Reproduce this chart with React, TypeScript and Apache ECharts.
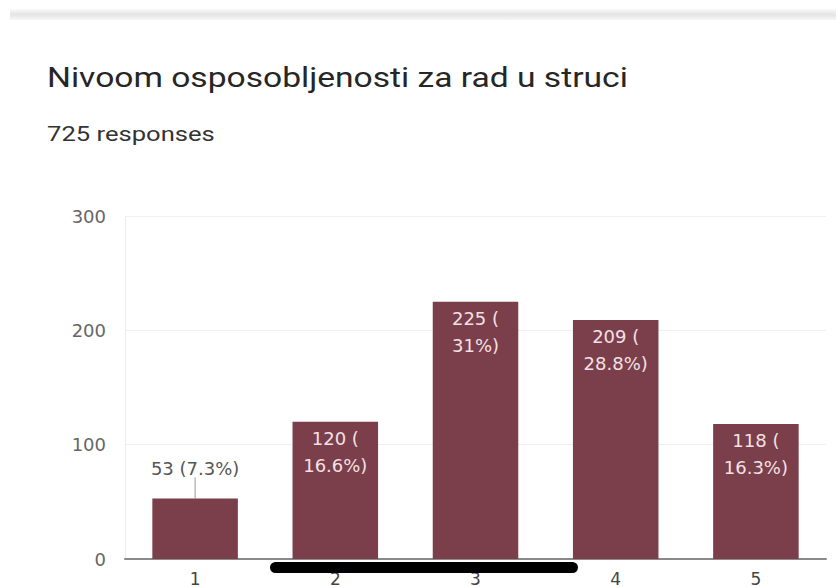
import React, { useEffect, useRef } from "react";
import * as echarts from "echarts";

const titleText = "Nivoom osposobljenosti za rad u struci";
const subtitleText = "725 responses";
const categories = ["1", "2", "3", "4", "5"];
const counts = [53, 120, 225, 209, 118];
const percents = ["7.3%", "16.6%", "31%", "28.8%", "16.3%"];
const yTicks = { min: 0, max: 300, interval: 100 };

export default function App() {
  const ref = useRef<HTMLDivElement>(null);
  useEffect(() => {
    if (!ref.current) return;
    const chart = echarts.init(ref.current, null, { renderer: "svg" });
    const font = "Roboto, 'Noto Sans', Arial, sans-serif";
    const labelFont = "'DejaVu Sans', Roboto, sans-serif";
    const data = counts.map((v, i) => {
      if (i === 0) {
        return {
          value: v,
          label: {
            show: true,
            position: "top",
            distance: 21,
            color: "#555",
            formatter: `${v} (${percents[i]})`,
            fontSize: 18,
            fontFamily: labelFont,
          },
        };
      }
      return {
        value: v,
        label: {
          show: true,
          position: "insideTop",
          distance: 3,
          color: "#f3e1e5",
          fontSize: 18,
          lineHeight: 27,
          fontFamily: labelFont,
          formatter: `${v} (\n${percents[i]})`,
        },
      };
    });
    chart.setOption({
      animation: false,
      textStyle: { fontFamily: font },
      grid: {
        left: 125,
        right: 10,
        top: 216,
        bottom: 28,
        containLabel: false,
        outerBoundsMode: "none",
      },
      xAxis: {
        type: "category",
        data: categories,
        axisLine: { show: true, lineStyle: { color: "#8a8a8a", width: 2 } },
        axisTick: { show: false },
        axisLabel: { color: "#444", fontSize: 17, margin: 11, fontFamily: labelFont },
      },
      yAxis: {
        type: "value",
        min: yTicks.min,
        max: yTicks.max,
        interval: yTicks.interval,
        axisLine: { show: true, lineStyle: { color: "#ececec" } },
        axisTick: { show: false },
        splitLine: { lineStyle: { color: "#efefef" } },
        axisLabel: { color: "#666", fontSize: 18, margin: 19, fontFamily: labelFont },
      },
      series: [
        {
          type: "bar",
          data,
          barWidth: "61%",
          itemStyle: { color: "#7b3e4b" },
        },
      ],
      graphic: [
        {
          type: "rect",
          shape: { x: 10, y: 9, width: 826, height: 11 },
          style: {
            fill: new echarts.graphic.LinearGradient(0, 0, 0, 1, [
              { offset: 0, color: "#fafafa" },
              { offset: 0.5, color: "#e4e4e4" },
              { offset: 1, color: "#f7f7f7" },
            ]),
          },
        },
        {
          type: "text",
          x: 47,
          y: 63,
          scaleX: 1.2,
          style: { text: titleText, fontSize: 28, fill: "#262626", fontFamily: font },
        },
        {
          type: "text",
          x: 47,
          y: 124,
          scaleX: 1.28,
          style: { text: subtitleText, fontSize: 20, fill: "#333", fontFamily: font },
        },
        {
          type: "rect",
          shape: { x: 270, y: 562, width: 308, height: 11, r: 5.5 },
          style: { fill: "#000" },
          z: 100,
        },
      ],
    });
    const top = chart.convertToPixel({ seriesIndex: 0 }, [0, counts[0]]) as number[];
    chart.setOption({
      graphic: [
        {},
        {},
        {},
        {},
        {
          type: "line",
          shape: { x1: top[0], y1: top[1] - 21, x2: top[0], y2: top[1] },
          style: { stroke: "#999", lineWidth: 1 },
        },
      ],
    });
    return () => chart.dispose();
  }, []);
  return <div ref={ref} style={{ width: 836, height: 587, position: "absolute", left: 0, top: 0, background: "#fff" }} />;
}
